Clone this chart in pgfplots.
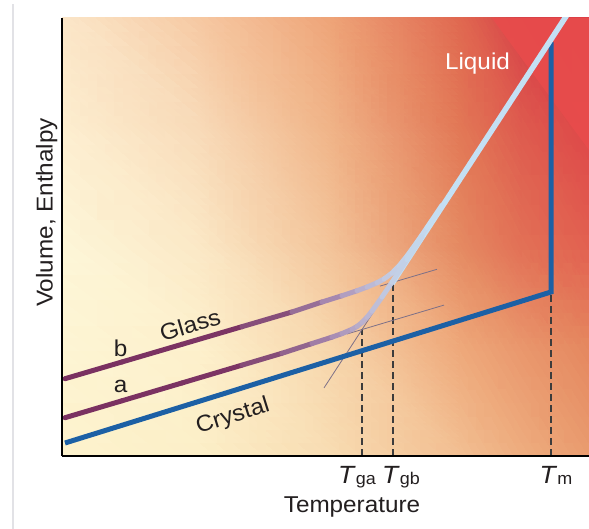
\documentclass[border=0pt]{standalone}
\usepackage{pgfplots}
\pgfplotsset{compat=1.18}
\usepackage{fontspec}
\setmainfont{Liberation Sans}[FakeStretch=1.06]
\definecolor{crys}{RGB}{28,96,165}
\definecolor{liq}{RGB}{196,224,244}
\definecolor{txt}{RGB}{35,31,32}
\definecolor{cdash}{RGB}{60,60,60}
\definecolor{cthin}{RGB}{125,112,135}
\definecolor{brightred}{RGB}{232,76,76}
\definecolor{frameline}{RGB}{226,226,230}
\newcommand\lab{\fontsize{23}{27}\selectfont}
\newcommand\Tl[1]{{\fontsize{25}{29}\selectfont\textit{T}}{\fontsize{17}{20}\selectfont\raisebox{-1.5bp}{#1}}}
\pgfplotsset{colormap={glass}{rgb255(0cm)=(122,48,96) rgb255(15cm)=(124,52,100) rgb255(22cm)=(138,85,128) rgb255(27cm)=(165,135,175) rgb255(30cm)=(185,175,205) rgb255(33cm)=(195,205,228) rgb255(38cm)=(196,224,244)}}
\begin{document}
\begin{tikzpicture}
\path[use as bounding box] (-62bp,-73bp) rectangle (527bp,456bp);
\fill[white] (-62bp,-73bp) rectangle (527bp,456bp);
\draw[line width=1.2bp, frameline] (-49bp,-73bp) -- (-49bp,452bp);
\begin{axis}[
  scale only axis, width=527bp, height=438bp,
  xmin=0, xmax=527, ymin=0, ymax=438,
  axis x line=bottom, axis y line=left,
  axis line style={-, line width=2.6bp, black},
  axis on top,
  xtick={295,339,494},
  xticklabels={\Tl{ga},\Tl{gb},\Tl{m}},
  ytick=\empty,
  major tick length=0pt,
  xticklabel style={anchor=base, yshift=-27bp, text=txt},
  xlabel={Temperature}, ylabel={Volume, Enthalpy},
  every axis x label/.style={at={(axis description cs:0.5503,0)}, anchor=base, yshift=-56bp, font=\lab, text=txt},
  every axis y label/.style={at={(axis description cs:-0.0178,0.556)}, rotate=90, anchor=base, font=\lab, text=txt},
]
% background
\addplot[surf, shader=interp, mesh/color input=explicit] coordinates {
(0,0) [rgb255=253,243,205] (138,0) [rgb255=252,239,200] (268,0) [rgb255=248,220,178] (398,0) [rgb255=242,190,145] (460,0) [rgb255=238,172,126] (527,0) [rgb255=233,155,110]

(0,106) [rgb255=253,245,212] (138,106) [rgb255=253,240,204] (268,106) [rgb255=247,214,172] (398,106) [rgb255=238,168,122] (460,106) [rgb255=233,150,108] (527,106) [rgb255=229,135,95]

(0,206) [rgb255=253,246,216] (138,206) [rgb255=251,232,198] (268,206) [rgb255=243,196,154] (398,206) [rgb255=229,138,98] (460,206) [rgb255=226,112,86] (527,206) [rgb255=226,96,80]

(0,326) [rgb255=253,238,208] (138,326) [rgb255=248,218,184] (268,326) [rgb255=240,180,136] (398,326) [rgb255=226,120,86] (460,326) [rgb255=222,90,78] (527,326) [rgb255=222,70,72]

(0,438) [rgb255=251,230,200] (138,438) [rgb255=246,200,162] (268,438) [rgb255=238,164,120] (398,438) [rgb255=224,104,80] (460,438) [rgb255=214,64,72] (527,438) [rgb255=220,60,70]
};
\addplot[draw=none, fill=brightred, fill opacity=0.9] coordinates {(430,438) (527,438) (527,306)} -- cycle;
% dashed guide lines
\addplot[cdash, line width=1.3bp, dash pattern=on 7bp off 4bp] coordinates {(300,0) (300,126.5)};
\addplot[cdash, line width=1.3bp, dash pattern=on 7bp off 4bp] coordinates {(331,0) (331,174)};
\addplot[cdash, line width=1.3bp, dash pattern=on 7bp off 4bp] coordinates {(489,0) (489,164)};
% thin extrapolations
\addplot[cthin, line width=0.8bp] coordinates {(262,68.1) (312,144.8)};
\addplot[cthin, line width=0.8bp] coordinates {(285,122.0) (382,150.9)};
\addplot[cthin, line width=0.8bp] coordinates {(318,169.9) (375,186.7)};
% crystal
\addplot[crys, line width=5bp, line join=miter] coordinates {(3,13.0) (489,164) (489,414)};
% liquid
\addplot[liq, line width=5.5bp] coordinates {(330,172.45) (516,458)};
% glass b
\addplot[mesh, colormap name=glass, point meta=x, point meta min=0, point meta max=380, line width=5bp, line cap=round] coordinates {
(3,77.29) (60,94.05) (120,111.69) (180,129.33) (230,144.03) (260,153.97) (280,160.27) (295,165.28) (305,168.94) (315,173.22) (322,177.01) (330,182.95) (337,190.06) (345,199.98) (355,213.85) (365,228.41) (380,250.79)};
% glass a
\addplot[mesh, colormap name=glass, point meta=x, point meta min=0, point meta max=380, line width=5bp, line cap=round] coordinates {
(3,38.29) (60,55.22) (120,73.04) (180,90.86) (220,102.74) (250,112.43) (270,118.86) (280,122.4) (290,126.67) (295,129.55) (300,133.45) (305,138.66) (310,144.92) (320,158.95) (330,173.73) (345,196.34) (360,219.16)};
% texts
\node[font=\lab, text=txt, rotate=16.4] at (axis cs:128,131) {Glass};
\node[font=\lab, text=txt] at (axis cs:58.7,107.7) {b};
\node[font=\lab, text=txt] at (axis cs:58.7,69.3) {a};
\node[font=\lab, text=txt, rotate=17.3] at (axis cs:171,39.3) {Crystal};
\node[font=\lab, text=white, anchor=base] at (axis cs:415.5,386.7) {Liquid};
\end{axis}
\end{tikzpicture}
\end{document}
